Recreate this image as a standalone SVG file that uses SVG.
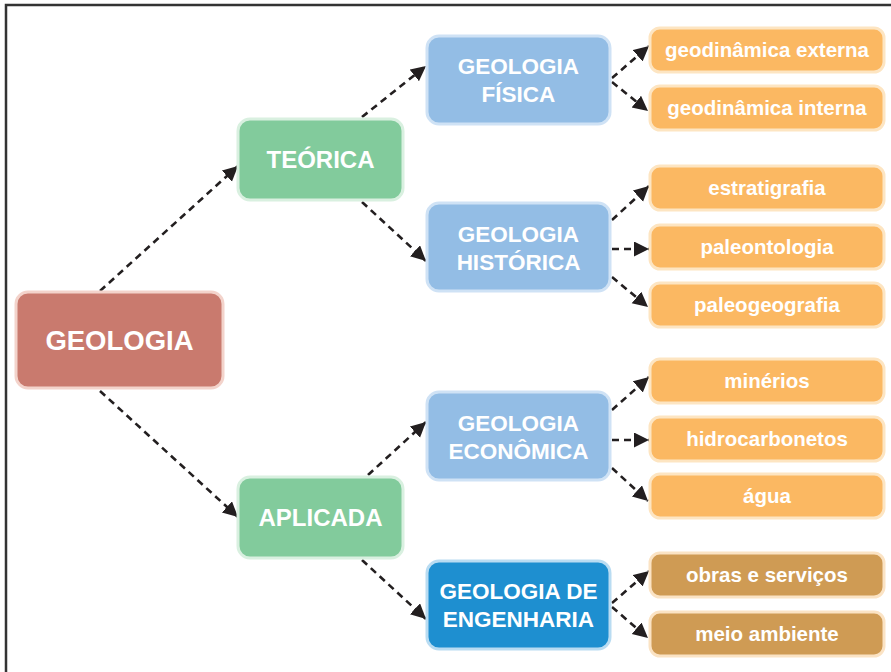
<svg xmlns="http://www.w3.org/2000/svg" width="891" height="672" viewBox="0 0 891 672">
<defs>
<marker id="ah" markerUnits="userSpaceOnUse" markerWidth="18" markerHeight="18" refX="15" refY="7.5" orient="auto">
<path d="M0,0 L15,7.5 L0,15 Z" fill="#231f20"/>
</marker>
<style>
.box{stroke-width:3}
.root{fill:#c97a6e;stroke:#f3d3cb}
.mid{fill:#82cb9c;stroke:#d9f0e0}
.blue{fill:#93bde5;stroke:#cfe2f5}
.dblue{fill:#1e8fd0;stroke:#b9dcf2}
.org{fill:#fbb862;stroke:#fde5c2}
.brn{fill:#cf9b54;stroke:#fbe3c4}
text{font-family:"Liberation Sans",Arial,sans-serif;font-weight:bold;fill:#fff;text-anchor:middle}
.t1{font-size:27.5px}
.t2{font-size:24px}
.t3{font-size:22.5px}
.t4{font-size:20.5px}
.c{fill:none;stroke:#231f20;stroke-width:2.6;stroke-dasharray:7,5;marker-end:url(#ah)}
</style>
</defs>
<rect width="891" height="672" fill="#fff"/>
<path d="M6,672 V5 H891" fill="none" stroke="#333" stroke-width="2.5"/>
<g id="connectors">
<path class="c" d="M100,291 L238,166"/>
<path class="c" d="M100,391 L238,517"/>
<path class="c" d="M362,117 L426,66"/>
<path class="c" d="M362,202 L426,261"/>
<path class="c" d="M368,475 L426,422"/>
<path class="c" d="M362,560 L426,619"/>
<path class="c" d="M612,78 L649,46"/>
<path class="c" d="M612,82 L648,111"/>
<path class="c" d="M612,220 L649,186"/>
<path class="c" d="M612,249 L649,249"/>
<path class="c" d="M612,277 L648,307"/>
<path class="c" d="M612,410 L649,377"/>
<path class="c" d="M612,440 L649,440"/>
<path class="c" d="M612,468 L648,501"/>
<path class="c" d="M612,603 L649,571"/>
<path class="c" d="M612,607 L648,638"/>
</g>
<g id="geologia"><rect class="box root" x="16" y="292" width="207" height="96" rx="12"/><text class="t1" x="119.5" y="350">GEOLOGIA</text></g>
<g id="teorica"><rect class="box mid" x="238" y="119" width="165" height="81" rx="12"/><text class="t2" x="320.5" y="168">TEÓRICA</text></g>
<g id="aplicada"><rect class="box mid" x="238" y="477" width="165" height="81" rx="12"/><text class="t2" x="320.5" y="526">APLICADA</text></g>
<g id="fisica"><rect class="box blue" x="427" y="36" width="183" height="88" rx="12"/><text class="t3" x="518.5" y="74">GEOLOGIA</text><text class="t3" x="518.5" y="102">FÍSICA</text></g>
<g id="historica"><rect class="box blue" x="427" y="203" width="183" height="88" rx="12"/><text class="t3" x="518.5" y="242">GEOLOGIA</text><text class="t3" x="518.5" y="270">HISTÓRICA</text></g>
<g id="economica"><rect class="box blue" x="427" y="392" width="183" height="88" rx="12"/><text class="t3" x="518.5" y="431">GEOLOGIA</text><text class="t3" x="518.5" y="459">ECONÔMICA</text></g>
<g id="engenharia"><rect class="box dblue" x="427" y="561" width="183" height="88" rx="12"/><text class="t3" x="518.5" y="599">GEOLOGIA DE</text><text class="t3" x="518.5" y="627">ENGENHARIA</text></g>
<g id="ext"><rect class="box org" x="650" y="28" width="234" height="44" rx="10"/><text class="t4" x="767" y="57">geodinâmica externa</text></g>
<g id="int"><rect class="box org" x="650" y="86" width="234" height="44" rx="10"/><text class="t4" x="767" y="115">geodinâmica interna</text></g>
<g id="estrat"><rect class="box org" x="650" y="166" width="234" height="44" rx="10"/><text class="t4" x="767" y="195">estratigrafia</text></g>
<g id="paleont"><rect class="box org" x="650" y="225" width="234" height="44" rx="10"/><text class="t4" x="767" y="254">paleontologia</text></g>
<g id="paleogeo"><rect class="box org" x="650" y="283" width="234" height="44" rx="10"/><text class="t4" x="767" y="312">paleogeografia</text></g>
<g id="minerios"><rect class="box org" x="650" y="359" width="234" height="44" rx="10"/><text class="t4" x="767" y="388">minérios</text></g>
<g id="hidro"><rect class="box org" x="650" y="417" width="234" height="44" rx="10"/><text class="t4" x="767" y="446">hidrocarbonetos</text></g>
<g id="agua"><rect class="box org" x="650" y="474" width="234" height="44" rx="10"/><text class="t4" x="767" y="503">água</text></g>
<g id="obras"><rect class="box brn" x="650" y="553" width="234" height="44" rx="10"/><text class="t4" x="767" y="582">obras e serviços</text></g>
<g id="meio"><rect class="box brn" x="650" y="612" width="234" height="44" rx="10"/><text class="t4" x="767" y="641">meio ambiente</text></g>
</svg>
